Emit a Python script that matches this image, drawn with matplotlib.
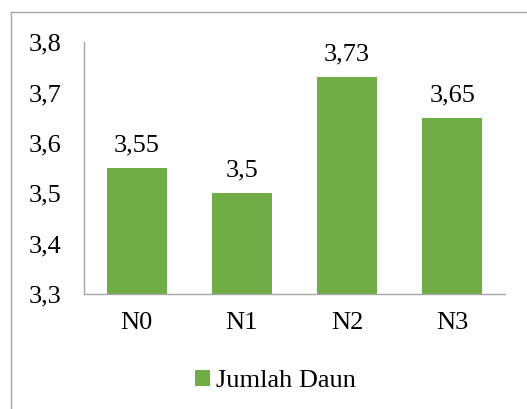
import matplotlib.pyplot as plt
from matplotlib.lines import Line2D

categories = ["N0", "N1", "N2", "N3"]
values = [3.55, 3.5, 3.73, 3.65]
yticks = [3.3, 3.4, 3.5, 3.6, 3.7, 3.8]
series_name = "Jumlah Daun"

plt.rcParams['font.family'] = ['Liberation Serif', 'DejaVu Serif']
fs = 19

fig = plt.figure(figsize=(5.27, 4.09), dpi=100)
ax = fig.add_axes([0.1594, 0.281, 0.7986, 0.616])

x = range(len(categories))
bars = ax.bar(x, values, width=0.57, color="#70AD47", label=series_name)

for xi, v in zip(x, values):
    ax.text(xi, v + 0.023, f"{v:g}".replace(".", ","), ha="center", va="bottom",
            fontsize=fs)

ax.set_ylim(3.3, 3.8)
ax.set_xlim(-0.5, len(categories) - 0.5)
ax.set_yticks(yticks)
ax.set_yticklabels([f"{t:.1f}".replace(".", ",") for t in yticks], fontsize=fs)
ax.set_xticks(list(x))
ax.set_xticklabels(categories, fontsize=fs)
ax.tick_params(length=0)
ax.tick_params(axis="x", pad=13)
ax.tick_params(axis="y", pad=16)

for s in ["top", "right"]:
    ax.spines[s].set_visible(False)
for s in ["left", "bottom"]:
    ax.spines[s].set_color("#A6A6A6")
    ax.spines[s].set_linewidth(1)

ax.legend(loc="center", bbox_to_anchor=(0.455, -0.345), frameon=False,
          fontsize=fs, handlelength=0.55, handleheight=0.55, handletextpad=0.25)

# outer chart frame (partially cropped in the reference)
fig.add_artist(Line2D([11 / 527, 11 / 527], [0, 1 - 12 / 409],
                      transform=fig.transFigure, color="#A6A6A6", lw=1))
fig.add_artist(Line2D([11 / 527, 1], [1 - 12 / 409, 1 - 12 / 409],
                      transform=fig.transFigure, color="#A6A6A6", lw=1))

fig.savefig("out.png", dpi=100)
